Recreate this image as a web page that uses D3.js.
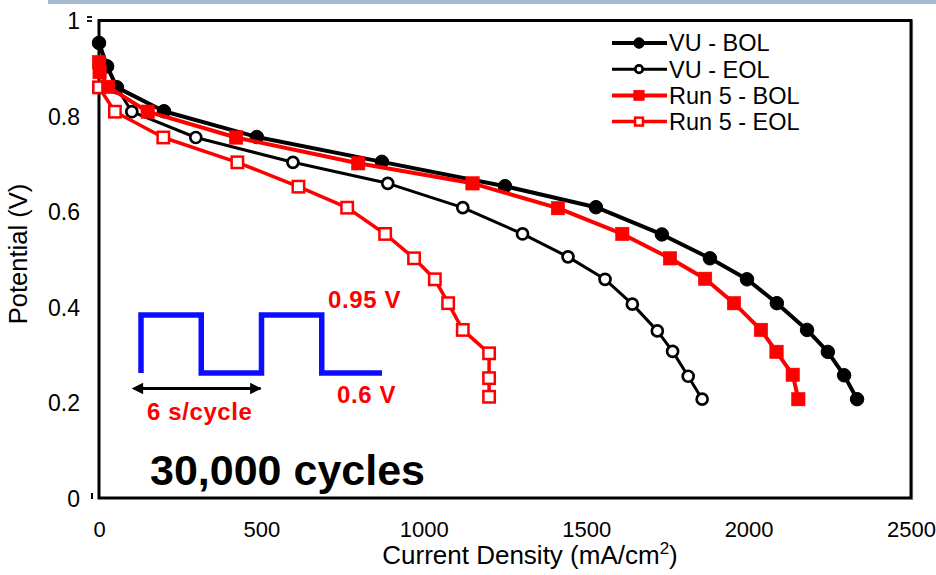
<!DOCTYPE html>
<html>
<head>
<meta charset="utf-8">
<script src="https://cdn.jsdelivr.net/npm/d3@7"></script>
<style>
  html, body { margin: 0; padding: 0; background: #ffffff; }
  svg { display: block; }
  text { font-family: "Liberation Sans", Arial, sans-serif; }
</style>
</head>
<body>
<svg id="chart" width="936" height="575"></svg>
<script>
// Polarization curves: current density (mA/cm2) vs potential (V)
const vuBolJ = [0, 25, 55, 200, 486, 871, 1250, 1530, 1733, 1881, 1995, 2087, 2180, 2244, 2294, 2334];
const vuBolV = [0.953, 0.904, 0.860, 0.810, 0.756, 0.704, 0.653, 0.609, 0.552, 0.502, 0.458, 0.408, 0.352, 0.306, 0.257, 0.207];

const vuEolJ = [0, 25, 55, 101, 298, 597, 889, 1120, 1304, 1444, 1558, 1642, 1719, 1766, 1814, 1857];
const vuEolV = [0.953, 0.904, 0.860, 0.809, 0.755, 0.703, 0.659, 0.608, 0.553, 0.505, 0.458, 0.406, 0.350, 0.307, 0.255, 0.207];

const run5BolJ = [0, 2, 28, 150, 422, 798, 1150, 1413, 1611, 1758, 1866, 1955, 2038, 2086, 2136, 2153];
const run5BolV = [0.913, 0.892, 0.861, 0.809, 0.755, 0.701, 0.659, 0.607, 0.553, 0.502, 0.459, 0.408, 0.352, 0.306, 0.258, 0.207];

const run5EolJ = [0, 49, 198, 426, 614, 764, 881, 970, 1034, 1075, 1120, 1201, 1201, 1201];
const run5EolV = [0.860, 0.809, 0.755, 0.703, 0.652, 0.608, 0.553, 0.502, 0.458, 0.408, 0.352, 0.303, 0.251, 0.212];

const seriesNames = ["VU - BOL", "VU - EOL", "Run 5 - BOL", "Run 5 - EOL"];

const xTicks = [0, 500, 1000, 1500, 2000, 2500];
const yTicks = [0, 0.2, 0.4, 0.6, 0.8, 1];
const yTickLabels = ["0", "0.2", "0.4", "0.6", "0.8", "1"];

// Potential-cycling waveform (inset): time in s, potential in V
const waveT = [0, 0, 3, 3, 6, 6, 9, 9, 12];
const waveV = [0.6, 0.95, 0.95, 0.6, 0.6, 0.95, 0.95, 0.6, 0.6];
const cycleSpan = [0, 6];

const svg = d3.select("#chart");

const x = d3.scaleLinear().domain([0, 2500]).range([99, 911]);
const y = d3.scaleLinear().domain([0, 1]).range([498, 20.5]);

// header band
svg.append("rect").attr("x", 48).attr("y", 0).attr("width", 888).attr("height", 4)
  .attr("fill", "#a5bbd3");

// frame with a faint right-hand shadow
svg.append("line").attr("x1", 912.5).attr("x2", 912.5).attr("y1", 21).attr("y2", 500)
  .attr("stroke", "#bdbdbd").attr("stroke-width", 1.5);
svg.append("rect").attr("x", x(0)).attr("y", y(1))
  .attr("width", x(2500) - x(0)).attr("height", y(0) - y(1))
  .attr("fill", "none").attr("stroke", "#000").attr("stroke-width", 3);

// stray axis tick fragments
svg.append("line").attr("x1", 87).attr("x2", 92).attr("y1", y(1) - 3.5).attr("y2", y(1) - 3.5)
  .attr("stroke", "#000").attr("stroke-width", 1.8);
svg.append("line").attr("x1", 87).attr("x2", 92).attr("y1", y(1) + 0.5).attr("y2", y(1) + 0.5)
  .attr("stroke", "#000").attr("stroke-width", 1.8);
svg.append("line").attr("x1", 92).attr("x2", 92).attr("y1", y(0) - 5).attr("y2", y(0) + 1)
  .attr("stroke", "#000").attr("stroke-width", 2);

// axes (labels only)
const xAxis = d3.axisBottom(x).tickValues(xTicks).tickSize(0).tickPadding(0).tickFormat(d3.format("d"));
const gx = svg.append("g").attr("transform", `translate(0, ${y(0)})`).call(xAxis);
gx.select(".domain").remove();
gx.selectAll("text").attr("font-size", 22).attr("fill", "#000")
  .attr("font-family", "'Liberation Sans', Arial, sans-serif")
  .attr("dy", null).attr("y", 39);

const yAxis = d3.axisLeft(y).tickValues(yTicks).tickSize(0).tickPadding(0)
  .tickFormat((d, i) => yTickLabels[i]);
const gy = svg.append("g").attr("transform", `translate(${x(0)}, 0)`).call(yAxis);
gy.select(".domain").remove();
gy.selectAll("text").attr("font-size", 23).attr("fill", "#000")
  .attr("font-family", "'Liberation Sans', Arial, sans-serif")
  .attr("x", -19).attr("dy", "0.36em");

// axis titles
const xt = svg.append("text").attr("x", 530).attr("y", 564).attr("text-anchor", "middle")
  .attr("font-size", 26).attr("fill", "#000");
xt.append("tspan").text("Current Density (mA/cm");
xt.append("tspan").attr("font-size", 17).attr("dy", -10).text("2");
xt.append("tspan").attr("dy", 10).text(")");

svg.append("text").attr("transform", "translate(27, 254) rotate(-90)")
  .attr("text-anchor", "middle").attr("font-size", 25.5).attr("fill", "#000")
  .text("Potential (V)");

// series
const series = [
  { name: seriesNames[1], J: vuEolJ, V: vuEolV, color: "#000", lw: 3, shape: "circle", filled: false },
  { name: seriesNames[3], J: run5EolJ, V: run5EolV, color: "#ff0000", lw: 3.5, shape: "square", filled: false },
  { name: seriesNames[0], J: vuBolJ, V: vuBolV, color: "#000", lw: 4, shape: "circle", filled: true },
  { name: seriesNames[2], J: run5BolJ, V: run5BolV, color: "#ff0000", lw: 4, shape: "square", filled: true }
];

const line = d3.line().x(d => x(d[0])).y(d => y(d[1]));

function drawMarker(g, cx, cy, s, size) {
  if (s.shape === "circle") {
    const r = s.filled ? size / 2 : size / 2 - 1;
    g.append("circle").attr("cx", cx).attr("cy", cy).attr("r", r)
      .attr("fill", s.filled ? s.color : "#fff")
      .attr("stroke", s.color).attr("stroke-width", s.filled ? 1 : 2.7);
  } else {
    const h = s.filled ? size / 2 : size / 2 - 0.8;
    g.append("rect").attr("x", cx - h).attr("y", cy - h).attr("width", 2 * h).attr("height", 2 * h)
      .attr("fill", s.filled ? s.color : "#fff")
      .attr("stroke", s.color).attr("stroke-width", s.filled ? 0.5 : 2.5);
  }
}

series.forEach(s => {
  const pts = s.J.map((j, i) => [j, s.V[i]]);
  const g = svg.append("g");
  g.append("path").datum(pts).attr("d", line).attr("fill", "none")
    .attr("stroke", s.color).attr("stroke-width", s.lw).attr("stroke-linejoin", "round");
  pts.forEach(p => drawMarker(g, x(p[0]), y(p[1]), s, s.filled ? 13.5 : 13));
});

// legend
const legendOrder = [series[2], series[0], series[3], series[1]];
const lg = svg.append("g");
legendOrder.forEach((s, i) => {
  const ly = 43 + i * 26.2;
  lg.append("line").attr("x1", 612).attr("x2", 667).attr("y1", ly).attr("y2", ly)
    .attr("stroke", s.color).attr("stroke-width", s.lw);
  drawMarker(lg, 639, ly, s, s.filled ? 10.5 : 9.5);
  lg.append("text").attr("x", 669).attr("y", ly).attr("dy", "0.36em")
    .attr("font-size", 23.5).attr("fill", "#000").text(s.name);
});

// inset: potential-cycling waveform
const tS = d3.scaleLinear().domain([0, 12]).range([141, 382]);
const vS = d3.scaleLinear().domain([0.6, 0.95]).range([373, 315]);
svg.append("path").datum(waveT.map((t, i) => [t, waveV[i]]))
  .attr("d", d3.line().x(d => tS(d[0])).y(d => vS(d[1])))
  .attr("fill", "none").attr("stroke", "#0c0cff").attr("stroke-width", 5.5)
  .attr("stroke-linejoin", "miter");

// double-headed arrow spanning one cycle
const ay = 388.5;
const defs = svg.append("defs");
["start", "end"].forEach(k => {
  defs.append("marker").attr("id", "arr-" + k).attr("viewBox", "0 0 10 10")
    .attr("refX", k === "end" ? 9 : 1).attr("refY", 5)
    .attr("markerWidth", 4.2).attr("markerHeight", 3.6).attr("orient", "auto-start-reverse")
    .attr("markerUnits", "strokeWidth")
    .append("path").attr("d", "M0,0 L10,5 L0,10 Z").attr("fill", "#000");
});
svg.append("line").attr("x1", tS(cycleSpan[0]) + 1).attr("x2", tS(cycleSpan[1]) - 1)
  .attr("y1", ay).attr("y2", ay).attr("stroke", "#000").attr("stroke-width", 3.2)
  .attr("marker-start", "url(#arr-start)").attr("marker-end", "url(#arr-end)");

const insetFont = "'DejaVu Sans', Verdana, sans-serif";
svg.append("text").attr("x", 328).attr("y", 308).attr("font-family", insetFont)
  .attr("font-weight", "bold").attr("font-size", 24).attr("letter-spacing", 0.6)
  .attr("fill", "#ff0000").text(waveV[1] + " V");
svg.append("text").attr("x", 337).attr("y", 403).attr("font-family", insetFont)
  .attr("font-weight", "bold").attr("font-size", 24).attr("letter-spacing", 0.6)
  .attr("fill", "#ff0000").text(waveV[0] + " V");
svg.append("text").attr("x", 147).attr("y", 420).attr("font-family", insetFont)
  .attr("font-weight", "bold").attr("font-size", 24).attr("letter-spacing", 0.6)
  .attr("fill", "#ff0000").text((cycleSpan[1] - cycleSpan[0]) + " s/cycle");

svg.append("text").attr("x", 150).attr("y", 485)
  .attr("font-weight", "bold").attr("font-size", 43).attr("fill", "#000")
  .text("30,000 cycles");
</script>
</body>
</html>
